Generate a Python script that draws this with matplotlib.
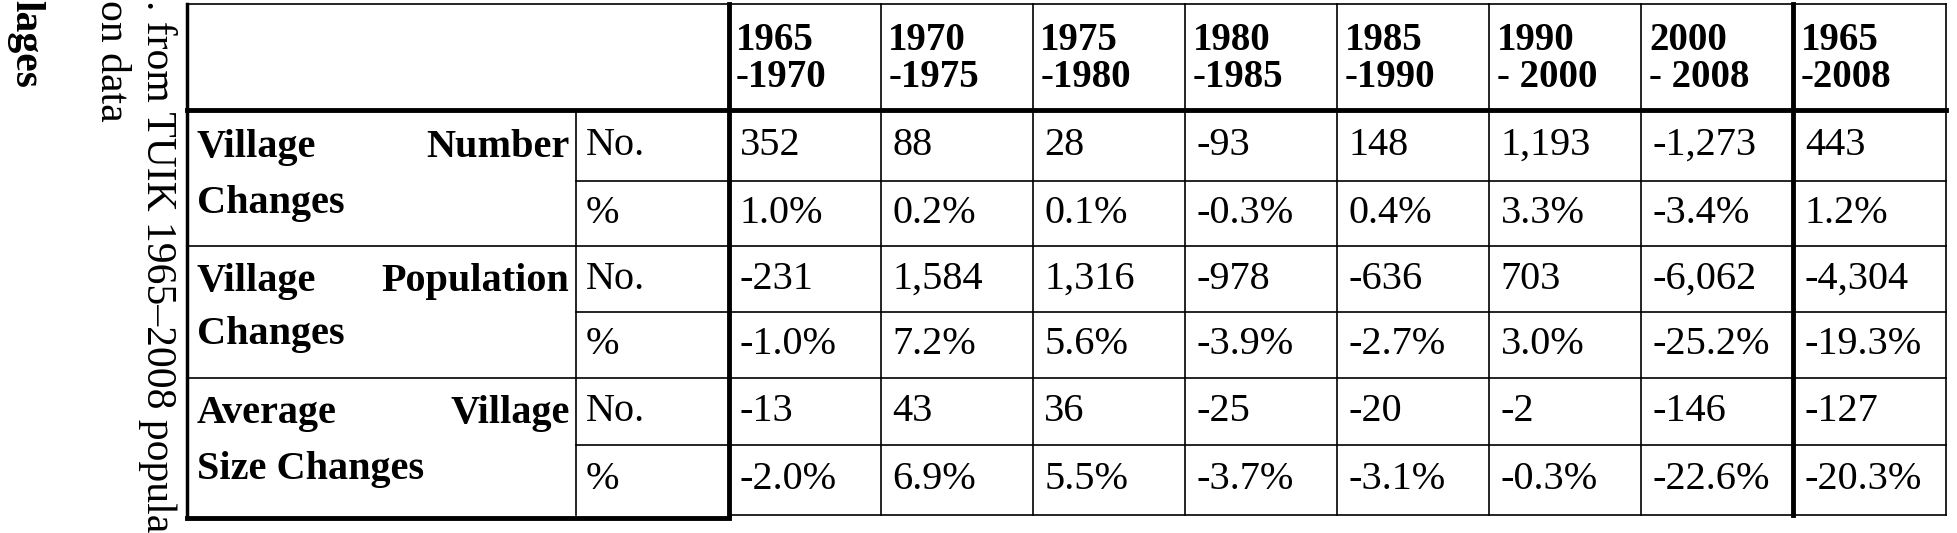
import matplotlib.pyplot as plt

periods = ["1965\n-1970", "1970\n-1975", "1975\n-1980", "1980\n-1985",
           "1985\n-1990", "1990\n- 2000", "2000\n- 2008", "1965\n-2008"]
groups = [("Village", "Number", "Changes"),
          ("Village", "Population", "Changes"),
          ("Average", "Village", "Size Changes")]
units = ["No.", "%"]
village_no = ["352", "88", "28", "-93", "148", "1,193", "-1,273", "443"]
village_pct = ["1.0%", "0.2%", "0.1%", "-0.3%", "0.4%", "3.3%", "-3.4%", "1.2%"]
pop_no = ["-231", "1,584", "1,316", "-978", "-636", "703", "-6,062", "-4,304"]
pop_pct = ["-1.0%", "7.2%", "5.6%", "-3.9%", "-2.7%", "3.0%", "-25.2%", "-19.3%"]
size_no = ["-13", "43", "36", "-25", "-20", "-2", "-146", "-127"]
size_pct = ["-2.0%", "6.9%", "5.5%", "-3.7%", "-3.1%", "-0.3%", "-22.6%", "-20.3%"]
rows = [village_no, village_pct, pop_no, pop_pct, size_no, size_pct]

SERIF = ["Liberation Serif", "DejaVu Serif"]

fig = plt.figure(figsize=(19.57, 5.33), dpi=100)
ax = fig.add_axes([0, 0, 1, 1])
ax.set_xlim(0, 1550)
ax.set_ylim(422, 0)
ax.axis("off")

# geometry (in reference display units)
x_left, x_unit, x_data = 148, 456, 577
col_w = 120.5
col_x = [x_data + i * col_w for i in range(len(periods) + 1)]
y_top = 3
row_y = [87, 143, 195, 247, 299, 352, 408]
y_head = row_y[0]
y_bot = row_y[-1]

thin, thick = 1.2, 3.5
ax.plot([x_left, col_x[-1]], [y_top, y_top], color="black", lw=thin)
ax.plot([x_left, col_x[-1]], [y_head, y_head], color="black", lw=thick)
for i, y in enumerate(row_y[1:-1], start=1):
    x0 = x_left if i % 2 == 0 else x_unit
    ax.plot([x0, col_x[-1]], [y, y], color="black", lw=thin)
ax.plot([x_left, x_data], [y_bot + 2, y_bot + 2], color="black", lw=thick)
ax.plot([x_data, col_x[-1]], [y_bot, y_bot], color="black", lw=thin)
ax.plot([x_left, x_left], [y_top, y_bot + 2], color="black", lw=2.5)
ax.plot([x_unit, x_unit], [y_head, y_bot], color="black", lw=thin)
for i, x in enumerate(col_x):
    lw = thick if i in (0, 7) else thin
    ax.plot([x, x], [y_top, y_bot], color="black", lw=lw)

# header
for i, p in enumerate(periods):
    ax.text(col_x[i] + 6, (y_top + y_head) / 2 + 2, p, fontsize=28,
            fontweight="bold", family=SERIF, ha="left", va="center",
            linespacing=1.0)

# group labels
for g, (w1, w2, w3) in enumerate(groups):
    y1 = (row_y[2 * g] + row_y[2 * g + 1]) / 2
    y2 = (row_y[2 * g + 1] + row_y[2 * g + 2]) / 2
    ax.text(x_left + 8, y1 + 2, w1, fontsize=29, fontweight="bold",
            family=SERIF, ha="left", va="center")
    ax.text(x_unit - 5, y1 + 2, w2, fontsize=29, fontweight="bold",
            family=SERIF, ha="right", va="center")
    ax.text(x_left + 8, y2 - 8, w3, fontsize=29, fontweight="bold",
            family=SERIF, ha="left", va="center")

# units and values
for r, vals in enumerate(rows):
    yc = (row_y[r] + row_y[r + 1]) / 2
    ax.text(x_unit + 8, yc, units[r % 2], fontsize=29, family=SERIF,
            ha="left", va="center")
    for c, v in enumerate(vals):
        ax.text(col_x[c] + 9, yc, v, fontsize=29, family=SERIF,
                ha="left", va="center")

# clipped caption on the left, rotated
ax.text(125, 0, ". from TUIK 1965\u20132008 populati", rotation=-90,
        fontsize=30, family=SERIF, ha="center", va="top")
ax.text(88, 0, "on data", rotation=-90, fontsize=30, family=SERIF,
        ha="center", va="top")
ax.text(20, 0, "lages", rotation=-90, fontsize=30, fontweight="bold",
        family=SERIF, ha="center", va="top")

fig.savefig("out.png", dpi=100)
